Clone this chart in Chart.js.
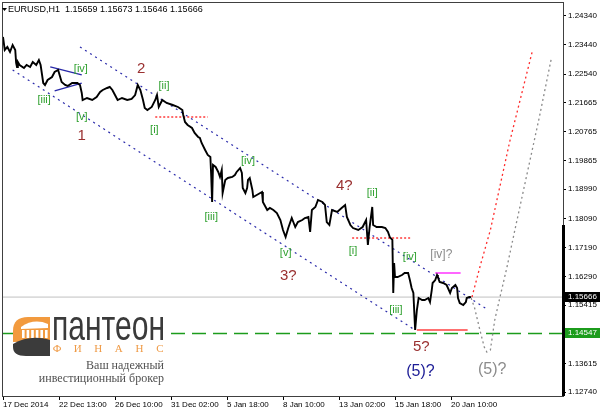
<!DOCTYPE html>
<html>
<head>
<meta charset="utf-8">
<script src="https://cdn.jsdelivr.net/npm/chart.js@4.4.0/dist/chart.umd.min.js"></script>
<style>
  html, body { margin: 0; padding: 0; background: #fff; }
  canvas { display: block; }
</style>
</head>
<body>
<canvas id="myChart" width="600" height="411"></canvas>
<script>
// x values are H1 bar numbers counted from the left edge of the window
const timeLabels = ["17 Dec 2014", "22 Dec 13:00", "26 Dec 10:00", "31 Dec 02:00", "5 Jan 18:00",
  "8 Jan 10:00", "13 Jan 02:00", "15 Jan 18:00", "20 Jan 10:00"];
const timeTickBars = [0, 64, 128, 192, 256, 320, 384, 448, 512];
const priceTicks = [1.2434, 1.2344, 1.2254, 1.21665, 1.20765, 1.19865, 1.1899, 1.1809,
  1.1719, 1.1629, 1.15415, 1.13615, 1.1274];

// [bar, price]
const pricePath = [
  [0, 1.23683], [2, 1.23283], [5, 1.23375], [8, 1.23221], [11, 1.23437], [14, 1.23283], [15, 1.22882],
  [16, 1.22759], [17, 1.22913], [19, 1.2282], [24, 1.22728], [27, 1.2282], [31, 1.22759], [34, 1.22913],
  [38, 1.2282], [41, 1.22974], [43, 1.2282], [46, 1.22265], [48, 1.22204], [51, 1.22358], [56, 1.2245],
  [59, 1.22605], [63, 1.22666], [67, 1.22296], [71, 1.22204], [74, 1.22173], [79, 1.22265], [85, 1.22265],
  [88, 1.22204], [90, 1.21957], [91, 1.21741], [96, 1.21803], [102, 1.21741], [107, 1.21834], [111, 1.21988],
  [114, 1.2205], [119, 1.22111], [122, 1.22142], [125, 1.2205], [128, 1.21895], [131, 1.21741], [136, 1.21803],
  [142, 1.21741], [147, 1.21772], [151, 1.21895], [154, 1.22204], [157, 1.2205], [160, 1.21741], [162, 1.21495],
  [165, 1.21433], [170, 1.21526], [174, 1.21741], [176, 1.21895], [178, 1.21526], [182, 1.21741], [187, 1.21649],
  [194, 1.21587], [200, 1.21526], [205, 1.21433], [206, 1.21279], [208, 1.21063], [211, 1.20971], [216, 1.20878],
  [219, 1.20724], [223, 1.20601], [225, 1.2057], [227, 1.20416], [231, 1.202], [234, 1.20046], [237, 1.19984],
  [238, 1.19368], [239, 1.18597], [240, 1.19738], [243, 1.19676], [246, 1.19522], [248, 1.19368], [250, 1.19583],
  [251, 1.18874], [254, 1.19275], [257, 1.19337], [262, 1.19368], [265, 1.19429], [267, 1.19522], [271, 1.19645],
  [273, 1.19491], [274, 1.19029], [277, 1.18874], [279, 1.19029], [280, 1.19275], [282, 1.19337], [285, 1.18967],
  [286, 1.18751], [290, 1.18813], [294, 1.18874], [296, 1.18905], [297, 1.18597], [302, 1.1835], [305, 1.18412],
  [309, 1.1835], [313, 1.18258], [317, 1.18042], [320, 1.17734], [323, 1.17518], [326, 1.17795], [330, 1.18104],
  [334, 1.17826], [337, 1.1798], [342, 1.18042], [345, 1.18104], [349, 1.18135], [351, 1.17672], [353, 1.1835],
  [357, 1.18443], [360, 1.18659], [365, 1.18597], [368, 1.18505], [370, 1.1798], [373, 1.17888], [376, 1.1835],
  [382, 1.18289], [387, 1.18412], [391, 1.18505], [393, 1.18135], [397, 1.17888], [400, 1.17795], [406, 1.17734],
  [411, 1.17826], [415, 1.18042], [417, 1.17271], [419, 1.17826], [422, 1.18443], [423, 1.17888], [427, 1.17826],
  [433, 1.17826], [437, 1.17795], [440, 1.17672], [442, 1.17518], [445, 1.17426], [446, 1.15792], [447, 1.16717],
  [448, 1.16285], [451, 1.16285], [456, 1.16347], [459, 1.16408], [463, 1.16408], [465, 1.16192], [467, 1.15946],
  [469, 1.15792], [471, 1.14651], [473, 1.15268], [475, 1.15638], [479, 1.15576], [482, 1.15576], [486, 1.15638],
  [488, 1.15514], [490, 1.15884], [491, 1.161], [494, 1.16192], [496, 1.16347], [497, 1.16285], [499, 1.16131],
  [503, 1.161], [507, 1.16038], [511, 1.15792], [513, 1.15946], [517, 1.16038], [519, 1.15946], [520, 1.15638],
  [522, 1.15483], [526, 1.15422], [529, 1.15514], [530, 1.15638], [533, 1.15668], [535, 1.15666]
];

const upperChannel = [[88, 1.23375], [553, 1.15298]];
const lowerChannel = [[11, 1.22666], [469, 1.14682]];
const wedgeTop = [[54, 1.22759], [90, 1.22512]];
const wedgeBottom = [[59, 1.22019], [90, 1.22265]];
const redLevels = [[174, 234, 1.21217], [399, 467, 1.17487]];
const pinkLevel = [494, 523, 1.16408];
const lowLevel = [473, 531, 1.14651];
const lastPrice = 1.15666;
const supportLevel = 1.14547;
const redProjection = [[536, 1.15668], [545, 1.16593], [557, 1.17734], [579, 1.20447], [605, 1.23252]];
const greyProjection = [[535, 1.15638], [539, 1.15329], [545, 1.14651], [550, 1.14127], [553, 1.13973],
  [557, 1.14035], [562, 1.14959], [568, 1.15668], [576, 1.16593], [585, 1.17734], [613, 1.21217], [627, 1.23067]];

// wave marks: text, bar, price, kind
const waveLabels = [
  ["[iii]", 47, 1.21741, "minor"], ["[iv]", 89, 1.22697, "minor"], ["[v]", 90, 1.21217, "minor"],
  ["1", 90, 1.20632, "major"], ["2", 158, 1.22697, "major"], ["[ii]", 184, 1.22173, "minor"],
  ["[i]", 173, 1.20817, "minor"], ["[iii]", 238, 1.18135, "minor"], ["[iv]", 280, 1.19861, "minor"],
  ["[v]", 323, 1.17025, "minor"], ["3?", 326, 1.16316, "major"], ["4?", 390, 1.1909, "major"],
  ["[ii]", 422, 1.18874, "minor"], ["[i]", 400, 1.17086, "minor"], ["[iv]", 465, 1.16902, "minor"],
  ["[iv]?", 501, 1.16963, "alt"], ["[iii]", 449, 1.15268, "minor"], ["5?", 478, 1.14127, "major"],
  ["(5)?", 477, 1.13356, "big"], ["(5)?", 559, 1.13418, "bigAlt"]
];

const labelStyle = {
  minor: ["11px", "#2ea02e"],
  major: ["15px", "#9a3030"],
  alt: ["12px", "#8c8c8c"],
  big: ["16px", "#1c1c96"],
  bigAlt: ["16px", "#8c8c8c"]
};

const pts = (arr) => arr.map((p) => ({ x: p[0], y: p[1] }));
const hline = (a, b, v) => [{ x: a, y: v }, { x: b, y: v }];

const line = (data, color, width, dash) => ({
  data: data,
  borderColor: color,
  borderWidth: width,
  borderDash: dash || [],
  pointRadius: 0,
  tension: 0,
  fill: false,
});

const drawLogo = (ctx) => {
  ctx.save();
  ctx.fillStyle = "#fff";
  ctx.fillRect(13, 314, 154, 72);

  ctx.fillStyle = "#f29a3e";
  ctx.beginPath();
  ctx.moveTo(13, 342);
  ctx.lineTo(13, 331);
  ctx.quadraticCurveTo(13, 317, 28, 317);
  ctx.lineTo(50, 317);
  ctx.lineTo(50, 341);
  ctx.closePath();
  ctx.fill();

  ctx.fillStyle = "#fff";
  ctx.beginPath();
  ctx.moveTo(21, 327);
  ctx.quadraticCurveTo(34, 318, 48, 324);
  ctx.lineTo(48, 328);
  ctx.lineTo(21, 329);
  ctx.closePath();
  ctx.fill();
  for (let i = 0; i < 6; i++) ctx.fillRect(22 + i * 4.6, 330, 2.6, 8);

  ctx.fillStyle = "#3b3b3b";
  ctx.beginPath();
  ctx.moveTo(13, 344);
  ctx.bezierCurveTo(24, 337, 38, 336, 50, 340);
  ctx.lineTo(50, 356);
  ctx.lineTo(26, 356);
  ctx.quadraticCurveTo(13, 356, 13, 347);
  ctx.closePath();
  ctx.fill();

  ctx.fillStyle = "#3a3a3a";
  ctx.font = "42px 'Liberation Sans'";
  ctx.textBaseline = "alphabetic";
  ctx.textAlign = "left";
  const w = ctx.measureText("пантеон").width;
  ctx.save();
  ctx.translate(52, 340);
  ctx.scale(113 / w, 1);
  ctx.fillText("пантеон", 0, 0);
  ctx.restore();

  ctx.fillStyle = "#ef9a45";
  ctx.font = "11px 'Liberation Serif'";
  ctx.textAlign = "center";
  "ФИНАНС".split("").forEach((ch, i) => ctx.fillText(ch, 57 + i * 20.6, 352));

  ctx.fillStyle = "#505050";
  ctx.font = "12px 'Liberation Serif'";
  ctx.textAlign = "right";
  ctx.fillText("Ваш надежный", 164, 369);
  ctx.fillText("инвестиционный брокер", 164, 382);
  ctx.restore();
};

const overlay = {
  id: "overlay",
  afterDatasetsDraw(chart) {
    const { ctx, scales: { x, y } } = chart;
    ctx.save();
    ctx.textAlign = "center";
    ctx.textBaseline = "middle";
    for (const [text, bar, price, kind] of waveLabels) {
      const [size, color] = labelStyle[kind];
      ctx.font = size + " 'Liberation Sans'";
      ctx.fillStyle = color;
      ctx.fillText(text, x.getPixelForValue(bar), y.getPixelForValue(price));
    }
    ctx.restore();
    drawLogo(ctx);
  },
  afterDraw(chart) {
    const { ctx, chartArea: a, scales: { y } } = chart;
    ctx.save();
    // frame
    ctx.strokeStyle = "#404040";
    ctx.lineWidth = 1;
    ctx.strokeRect(a.left - 0.5, a.top - 0.5, a.right - a.left + 1, a.bottom - a.top + 1);
    ctx.fillStyle = "#000";
    ctx.fillRect(a.right - 1, 225, 3, a.bottom - 225);

    // price boxes on the axis
    ctx.font = "8px 'Liberation Sans'";
    ctx.textBaseline = "middle";
    ctx.textAlign = "left";
    const box = (v, bg) => {
      const py = Math.round(y.getPixelForValue(v));
      ctx.fillStyle = bg;
      ctx.fillRect(a.right + 2, py - 5, 600 - a.right - 2, 10);
      ctx.fillStyle = "#fff";
      ctx.fillText(v.toFixed(5), a.right + 5, py);
    };
    box(lastPrice, "#000");
    box(supportLevel, "#1c9c1c");

    // title
    ctx.fillStyle = "#000";
    ctx.beginPath();
    ctx.moveTo(2, 8);
    ctx.lineTo(7, 8);
    ctx.lineTo(4.5, 11);
    ctx.closePath();
    ctx.fill();
    ctx.font = "9px 'Liberation Sans'";
    ctx.fillText("EURUSD,H1  1.15659 1.15673 1.15646 1.15666", 8, 10);
    ctx.restore();
  }
};

document.addEventListener("DOMContentLoaded", () => {
  const ctx = document.getElementById("myChart").getContext("2d");

  new Chart(ctx, {
    type: "line",
    data: {
      datasets: [
        line(pts(pricePath), "#000", 1.9),
        line(pts(wedgeTop), "#2828a8", 1.3),
        line(pts(wedgeBottom), "#2828a8", 1.3),
        line(hline(pinkLevel[0], pinkLevel[1], pinkLevel[2]), "#ff66ff", 2),
        line(hline(lowLevel[0], lowLevel[1], lowLevel[2]), "#ff4040", 1.5),
        line(hline(redLevels[0][0], redLevels[0][1], redLevels[0][2]), "#ff3a3a", 1.5, [2, 2]),
        line(hline(redLevels[1][0], redLevels[1][1], redLevels[1][2]), "#ff3a3a", 1.5, [2, 2]),
        line(pts(upperChannel), "#2a2aaa", 1.2, [2, 4]),
        line(pts(lowerChannel), "#2a2aaa", 1.2, [2, 4]),
        line(pts(redProjection), "#ff2a2a", 1.3, [2, 3]),
        line(pts(greyProjection), "#8a8a8a", 1.3, [2, 3]),
        line(hline(0, 640, supportLevel), "#1c9c1c", 1.5, [14, 7]),
        line(hline(0, 640, lastPrice), "#c0c0c0", 1),
      ],
    },
    options: {
      responsive: false,
      devicePixelRatio: 1,
      animation: false,
      layout: { padding: { left: 3, top: 3, right: 0, bottom: 0 } },
      plugins: {
        legend: { display: false },
        tooltip: { enabled: false },
      },
      scales: {
        x: {
          type: "linear",
          min: 0,
          max: 640,
          afterBuildTicks: (scale) => {
            scale.ticks = timeTickBars.map((v) => ({ value: v }));
          },
          afterFit: (scale) => {
            scale.height = 15;
            scale.paddingLeft = 0;
            scale.paddingRight = 0;
          },
          ticks: {
            autoSkip: false,
            maxRotation: 0,
            align: "start",
            padding: 0,
            color: "#000",
            font: { family: "'Liberation Sans'", size: 8 },
            callback: (v, i) => timeLabels[i],
          },
          grid: { drawOnChartArea: false, drawTicks: true, tickLength: 4, color: "#000" },
          border: { display: false },
        },
        y: {
          position: "right",
          min: 1.12617,
          max: 1.24731,
          afterBuildTicks: (scale) => {
            scale.ticks = priceTicks.map((v) => ({ value: v }));
          },
          afterFit: (scale) => {
            scale.width = 37;
            scale.paddingTop = 0;
            scale.paddingBottom = 0;
          },
          ticks: {
            autoSkip: false,
            padding: 2,
            color: "#000",
            font: { family: "'Liberation Sans'", size: 8 },
            callback: (v) => v.toFixed(5),
          },
          grid: { drawOnChartArea: false, drawTicks: true, tickLength: 3, color: "#000" },
          border: { display: false },
        },
      },
    },
    plugins: [overlay],
  });
});
</script>
</body>
</html>
